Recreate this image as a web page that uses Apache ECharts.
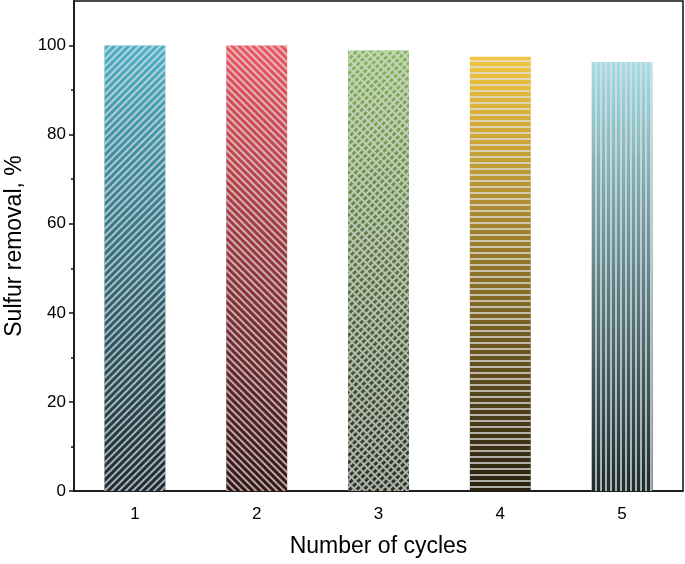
<!DOCTYPE html>
<html>
<head>
<meta charset="utf-8">
<script src="https://cdn.jsdelivr.net/npm/echarts@6/dist/echarts.min.js"></script>
<style>html,body{margin:0;padding:0;background:#fff}#c{width:685px;height:564px}</style>
</head>
<body>
<div id="c"></div>
<script>
var categories = ['1', '2', '3', '4', '5'];
var removal = [100.0, 100.0, 98.9, 97.5, 96.3];
var yMajorTicks = [0, 20, 40, 60, 80, 100];
var yMinorTicks = [10, 30, 50, 70, 90];
var topColors = ['#4bb0c8', '#ee5561', '#86b85a', '#f2c540', '#a3dee6'];
var bottomColors = ['#1c2b31', '#361616', '#283222', '#282010', '#1c2b2e'];

var decalColor = 'rgba(225,225,225,0.72)';
var decals = [
  { symbol: 'rect', symbolSize: 1, color: decalColor, dashArrayX: [1, 0], dashArrayY: [1.5, 2.8], rotation: -Math.PI / 4 },
  { symbol: 'rect', symbolSize: 1, color: decalColor, dashArrayX: [1, 0], dashArrayY: [1.2, 2.2], rotation: Math.PI / 4 },
  { symbol: 'rect', symbolSize: 1, color: decalColor, dashArrayX: [[3.3, 0], [1.1, 2.2], [1.1, 2.2]], dashArrayY: [1.1, 0], rotation: Math.PI / 4 },
  { symbol: 'rect', symbolSize: 1, color: decalColor, dashArrayX: [1, 0], dashArrayY: [1.4, 3.3], rotation: 0 },
  { symbol: 'rect', symbolSize: 1, color: decalColor, dashArrayX: [1.4, 3.0], dashArrayY: [1, 0], rotation: 0 }
];

var barData = removal.map(function (v, i) {
  return {
    value: v,
    itemStyle: {
      color: {
        type: 'linear', x: 0, y: 0, x2: 0, y2: 1,
        colorStops: [{ offset: 0, color: topColors[i] }, { offset: 1, color: bottomColors[i] }]
      },
      decal: decals[i]
    }
  };
});

var font = 'Liberation Sans, Arial, sans-serif';
var chart = echarts.init(document.getElementById('c'), null, { renderer: 'canvas' });
chart.setOption({
  animation: false,
  grid: { left: 74, right: 2, top: 1, bottom: 73, outerBoundsMode: 'none', containLabel: false, show: true, borderColor: '#111', borderWidth: 1.5, backgroundColor: 'transparent' },
  xAxis: [
    {
      type: 'category', data: categories, position: 'bottom',
      name: 'Number of cycles', nameLocation: 'middle', nameGap: 44,
      nameTextStyle: { fontFamily: font, fontSize: 23, color: '#000' },
      axisLine: { lineStyle: { color: '#111', width: 1.5 } },
      axisTick: { alignWithLabel: true, length: 5, lineStyle: { color: '#111', width: 1.5 } },
      axisLabel: { fontFamily: font, fontSize: 17, color: '#000', margin: 15 },
      splitLine: { show: false }
    },
    {
      type: 'category', data: categories, position: 'bottom',
      axisLine: { show: false },
      axisTick: { length: 3, lineStyle: { color: '#111', width: 1.5 } },
      axisLabel: { show: false },
      splitLine: { show: false }
    }
  ],
  yAxis: [
    {
      type: 'value', min: 0, max: 110, interval: 20, position: 'left',
      name: 'Sulfur removal, %', nameLocation: 'middle', nameGap: 48,
      nameTextStyle: { fontFamily: font, fontSize: 23, color: '#000' },
      axisLine: { show: true, lineStyle: { color: '#111', width: 1.5 } },
      axisTick: { show: true, length: 5, customValues: yMajorTicks, lineStyle: { color: '#111', width: 1.5 } },
      axisLabel: { fontFamily: font, fontSize: 17, color: '#000', margin: 8, customValues: yMajorTicks },
      splitLine: { show: false }
    },
    {
      type: 'value', min: 0, max: 110, position: 'left',
      axisLine: { show: false },
      axisTick: { show: true, length: 3, customValues: yMinorTicks, lineStyle: { color: '#111', width: 1.5 } },
      axisLabel: { show: false },
      splitLine: { show: false }
    }
  ],
  series: [{
    type: 'bar', xAxisIndex: 0, yAxisIndex: 0,
    barWidth: '50%',
    data: barData
  }]
});
</script>
</body>
</html>
